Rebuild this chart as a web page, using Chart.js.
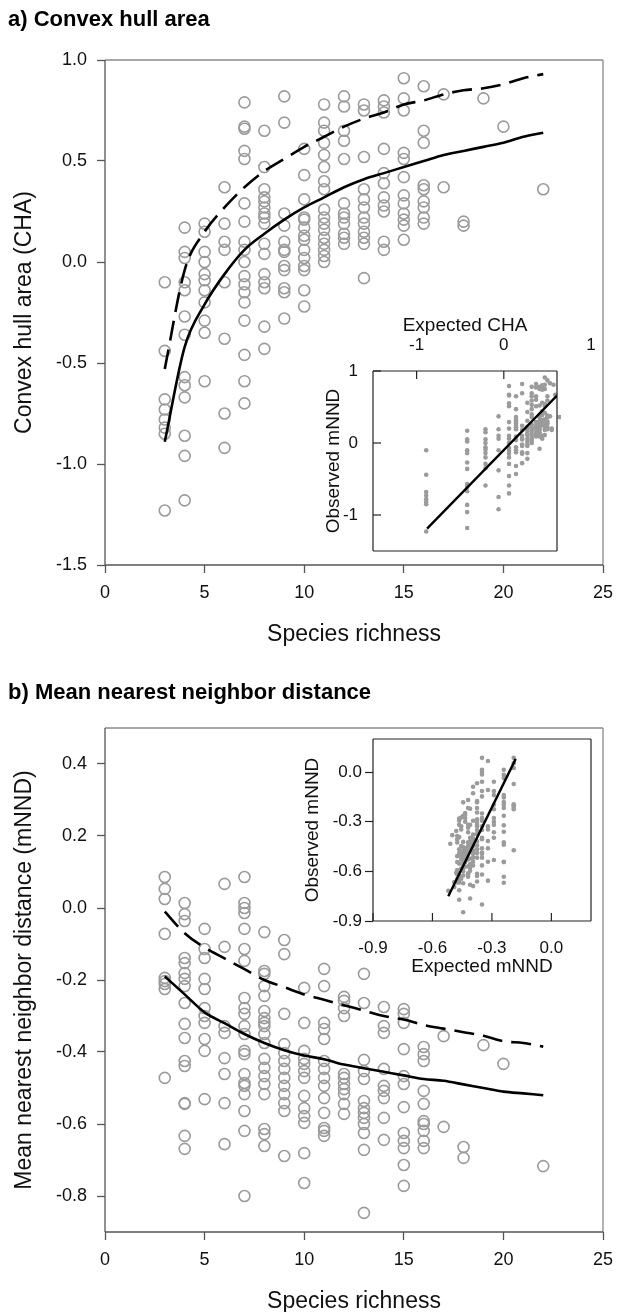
<!DOCTYPE html>
<html>
<head>
<meta charset="utf-8">
<script src="https://cdn.jsdelivr.net/npm/chart.js@4.4.1/dist/chart.umd.min.js"></script>
<style>
  html, body { margin: 0; padding: 0; background: #fff; overflow: hidden; }
  body { position: relative; width: 617px; height: 1312px; }
  canvas { position: absolute; }
</style>
</head>
<body>
<canvas id="mainA" width="617" height="650" style="left:0;top:0"></canvas>
<canvas id="insetA" width="317" height="260" style="left:300px;top:300px"></canvas>
<canvas id="mainB" width="617" height="672" style="left:0;top:650px"></canvas>
<canvas id="insetB" width="317" height="250" style="left:290px;top:730px"></canvas>
<script>
const FONT = "'Liberation Sans', Arial, sans-serif";

// fitted curves, one value per species richness 3..22
const richness = [3, 4, 5, 6, 7, 8, 9, 10, 11, 12, 13, 14, 15, 16, 17, 18, 19, 20, 21, 22];
const chaFit = [-0.89, -0.42, -0.21, -0.06, 0.06, 0.14, 0.21, 0.27, 0.32, 0.37, 0.41, 0.44, 0.47, 0.50, 0.53, 0.55, 0.57, 0.59, 0.62, 0.64];
const chaNull = [-0.53, -0.04, 0.15, 0.27, 0.37, 0.45, 0.51, 0.57, 0.62, 0.67, 0.71, 0.74, 0.78, 0.80, 0.83, 0.85, 0.86, 0.88, 0.91, 0.93];
const mnndFit = [-0.19, -0.24, -0.29, -0.32, -0.35, -0.375, -0.395, -0.41, -0.42, -0.435, -0.445, -0.455, -0.465, -0.475, -0.48, -0.49, -0.50, -0.51, -0.515, -0.52];
const mnndNull = [-0.01, -0.07, -0.11, -0.14, -0.17, -0.20, -0.22, -0.24, -0.255, -0.27, -0.285, -0.30, -0.31, -0.325, -0.335, -0.345, -0.355, -0.37, -0.375, -0.385];

// observed values, one list per richness level
const obsRichness = [3, 4, 5, 6, 7, 8, 9, 10, 11, 12, 13, 14, 15, 16, 17, 18, 19, 20, 22];
const chaObs = [
  [-0.10, -0.44, -0.68, -0.73, -0.78, -0.82, -0.85, -1.23],
  [0.17, 0.05, 0.02, -0.10, -0.14, -0.27, -0.36, -0.57, -0.61, -0.67, -0.86, -0.96, -1.18],
  [0.19, 0.15, 0.05, 0.0, -0.06, -0.09, -0.14, -0.20, -0.29, -0.35, -0.59],
  [0.37, 0.19, 0.10, 0.06, -0.10, -0.38, -0.75, -0.92],
  [0.79, 0.67, 0.66, 0.55, 0.51, 0.29, 0.20, 0.10, 0.06, 0.0, -0.07, -0.11, -0.15, -0.20, -0.29, -0.46, -0.59, -0.70],
  [0.65, 0.47, 0.36, 0.32, 0.30, 0.27, 0.24, 0.22, 0.19, 0.09, 0.04, -0.06, -0.10, -0.13, -0.32, -0.43],
  [0.82, 0.69, 0.24, 0.18, 0.10, 0.06, 0.05, -0.02, -0.04, -0.13, -0.15, -0.28],
  [0.56, 0.43, 0.31, 0.22, 0.21, 0.17, 0.13, 0.11, 0.06, 0.02, -0.02, -0.04, -0.14, -0.22],
  [0.78, 0.69, 0.65, 0.59, 0.53, 0.47, 0.40, 0.36, 0.26, 0.22, 0.19, 0.16, 0.12, 0.09, 0.06, 0.03, 0.0],
  [0.82, 0.77, 0.65, 0.60, 0.51, 0.29, 0.24, 0.22, 0.19, 0.14, 0.12, 0.09],
  [0.78, 0.75, 0.52, 0.36, 0.31, 0.27, 0.22, 0.19, 0.15, 0.12, 0.09, -0.08],
  [0.80, 0.77, 0.74, 0.56, 0.44, 0.39, 0.32, 0.28, 0.25, 0.10, 0.06],
  [0.91, 0.81, 0.75, 0.54, 0.51, 0.42, 0.33, 0.29, 0.24, 0.21, 0.18, 0.11],
  [0.87, 0.65, 0.59, 0.38, 0.36, 0.30, 0.27, 0.22, 0.19],
  [0.83, 0.37],
  [0.20, 0.18],
  [0.81],
  [0.67],
  [0.36]
];
const mnndObs = [
  [0.086, 0.053, 0.025, -0.072, -0.194, -0.203, -0.211, -0.225, -0.472],
  [0.014, -0.017, -0.036, -0.139, -0.153, -0.181, -0.197, -0.217, -0.264, -0.322, -0.361, -0.425, -0.439, -0.542, -0.544, -0.633, -0.669],
  [-0.058, -0.114, -0.139, -0.197, -0.225, -0.278, -0.300, -0.319, -0.364, -0.397, -0.531],
  [0.067, -0.108, -0.328, -0.347, -0.417, -0.461, -0.542, -0.656],
  [0.086, 0.014, 0.0, -0.014, -0.058, -0.114, -0.147, -0.250, -0.278, -0.294, -0.328, -0.350, -0.397, -0.406, -0.461, -0.486, -0.494, -0.517, -0.564, -0.619, -0.800],
  [-0.067, -0.175, -0.183, -0.217, -0.244, -0.286, -0.306, -0.319, -0.328, -0.350, -0.375, -0.419, -0.444, -0.467, -0.489, -0.517, -0.614, -0.628, -0.661],
  [-0.089, -0.128, -0.294, -0.378, -0.403, -0.425, -0.447, -0.472, -0.494, -0.517, -0.542, -0.564, -0.689],
  [-0.222, -0.319, -0.397, -0.419, -0.433, -0.453, -0.472, -0.522, -0.556, -0.578, -0.597, -0.681, -0.764],
  [-0.169, -0.217, -0.319, -0.336, -0.364, -0.425, -0.447, -0.472, -0.494, -0.528, -0.569, -0.611, -0.619, -0.633],
  [-0.247, -0.258, -0.278, -0.300, -0.461, -0.472, -0.489, -0.503, -0.517, -0.544, -0.572],
  [-0.183, -0.264, -0.422, -0.453, -0.475, -0.536, -0.556, -0.569, -0.583, -0.600, -0.625, -0.672, -0.847],
  [-0.275, -0.328, -0.347, -0.447, -0.494, -0.508, -0.528, -0.583, -0.644],
  [-0.281, -0.294, -0.319, -0.392, -0.467, -0.489, -0.553, -0.625, -0.647, -0.667, -0.714, -0.772],
  [-0.386, -0.406, -0.425, -0.508, -0.544, -0.592, -0.600, -0.619, -0.647, -0.667],
  [-0.356, -0.608],
  [-0.664, -0.694],
  [-0.381],
  [-0.433],
  [-0.717]
];

// tick labels
const xTicks = [0, 5, 10, 15, 20, 25];
const chaTicks = [-1.5, -1.0, -0.5, 0.0, 0.5, 1.0];
const mnndTicks = [-0.8, -0.6, -0.4, -0.2, 0.0, 0.2, 0.4];
const chaInsetTicks = [-1, 0, 1];
const mnndInsetTicks = [-0.9, -0.6, -0.3, 0.0];

// regression lines of the insets (observed vs expected)
const chaLineX = [-0.88, 0.61];
const chaLineY = [-1.19, 0.66];
const mnndLineX = [-0.52, -0.18];
const mnndLineY = [-0.75, 0.08];

function columnPoints(xs, cols) {
  const pts = [];
  cols.forEach((col, i) => col.forEach(v => pts.push({ x: xs[i], y: v })));
  return pts;
}

// observed value against the fitted (expected) value at its richness
function expectedPoints(fit, cols) {
  const pts = [];
  cols.forEach((col, i) => {
    const e = fit[richness.indexOf(obsRichness[i])];
    col.forEach(v => pts.push({ x: e, y: v }));
  });
  return pts;
}

function pairs(xs, ys) {
  return xs.map((x, i) => ({ x: x, y: ys[i] }));
}

function fmt(d) {
  return v => {
    if (Math.abs(v) < 1e-9) v = 0;
    return v.toFixed(d);
  };
}

function fixTicks(values) {
  return s => { s.ticks = values.map(v => ({ value: v })); };
}

function fixSize(prop, size) {
  return s => {
    s[prop] = size;
    s.paddingTop = 0; s.paddingBottom = 0; s.paddingLeft = 0; s.paddingRight = 0;
  };
}

// frame round the plot area + ticks that point inwards
const framePlugin = {
  id: 'frame',
  afterDraw(chart, args, opts) {
    const { ctx, chartArea: a } = chart;
    ctx.save();
    ctx.lineWidth = opts.width || 1;
    const side = (color, x1, y1, x2, y2) => {
      ctx.strokeStyle = color;
      ctx.beginPath(); ctx.moveTo(x1, y1); ctx.lineTo(x2, y2); ctx.stroke();
    };
    side(opts.top, a.left, a.top, a.right, a.top);
    side(opts.right, a.right, a.top, a.right, a.bottom);
    side(opts.bottom, a.left, a.bottom, a.right, a.bottom);
    side(opts.left, a.left, a.top, a.left, a.bottom);
    (opts.inward || []).forEach(id => {
      const s = chart.scales[id];
      s.ticks.forEach(t => {
        const p = s.getPixelForValue(t.value);
        if (s.isHorizontal()) {
          if (p < a.left - 1 || p > a.right + 1) return;
          const y0 = s.position === 'top' ? a.top : a.bottom;
          const dir = s.position === 'top' ? 1 : -1;
          side(opts.tickColor, p, y0, p, y0 + dir * 8);
        } else {
          if (p < a.top - 1 || p > a.bottom + 1) return;
          side(opts.tickColor, a.left, p, a.left + 8, p);
        }
      });
    });
    ctx.restore();
  }
};

function mainChart(id, c) {
  return new Chart(document.getElementById(id), {
    type: 'scatter',
    data: {
      datasets: [
        {
          type: 'line', data: pairs(richness, c.fit), borderColor: '#000', borderWidth: 2.6,
          pointRadius: 0, cubicInterpolationMode: 'monotone', fill: false
        },
        {
          type: 'line', data: pairs(richness, c.nul), borderColor: '#000', borderWidth: 2.6,
          borderDash: [20, 9], pointRadius: 0, cubicInterpolationMode: 'monotone', fill: false
        },
        {
          data: columnPoints(obsRichness, c.obs), pointRadius: 5.5, pointBorderWidth: 1.6,
          pointBorderColor: '#9b9b9b', pointBackgroundColor: 'rgba(0,0,0,0)',
          borderColor: '#9b9b9b', backgroundColor: 'rgba(0,0,0,0)'
        }
      ]
    },
    options: {
      responsive: false,
      animation: false,
      events: [],
      layout: { padding: { left: 8, right: 14, top: 0, bottom: 0 } },
      plugins: {
        legend: { display: false },
        tooltip: { enabled: false },
        title: {
          display: true, text: c.title, align: 'start', color: '#000',
          font: { family: FONT, size: 22, weight: 'bold' },
          padding: { top: c.titleTop, bottom: c.titleBottom }
        },
        frame: { left: '#555', bottom: '#555', top: '#8a8a8a', right: '#8a8a8a', width: 1.3 }
      },
      scales: {
        x: {
          type: 'linear', min: 0, max: 25,
          afterBuildTicks: fixTicks(xTicks),
          afterFit: fixSize('height', c.xHeight),
          ticks: { autoSkip: false, maxRotation: 0, padding: 9, color: '#111', font: { family: FONT, size: 18 }, callback: fmt(0) },
          grid: { drawOnChartArea: false, drawTicks: true, tickLength: 8, tickColor: '#555', tickWidth: 1.3 },
          border: { display: false },
          title: { display: true, text: 'Species richness', color: '#111', font: { family: FONT, size: 23 }, padding: { top: 0, bottom: c.xTitlePad } }
        },
        y: {
          type: 'linear', min: c.yMin, max: c.yMax,
          afterBuildTicks: fixTicks(c.yTicks),
          afterFit: fixSize('width', 97),
          ticks: { autoSkip: false, padding: 10, color: '#111', font: { family: FONT, size: 18 }, callback: fmt(1) },
          grid: { drawOnChartArea: false, drawTicks: true, tickLength: 8, tickColor: '#555', tickWidth: 1.3 },
          border: { display: false },
          title: { display: true, text: c.yTitle, color: '#111', font: { family: FONT, size: 23 }, padding: { top: 3, bottom: 0 } }
        }
      }
    },
    plugins: [framePlugin]
  });
}

mainChart('mainA', {
  title: 'a) Convex hull area', titleTop: 7, titleBottom: 26.6,
  fit: chaFit, nul: chaNull, obs: chaObs,
  yMin: -1.5, yMax: 1.0, yTicks: chaTicks, yTitle: 'Convex hull area (CHA)',
  xHeight: 85, xTitlePad: 2
});

mainChart('mainB', {
  title: 'b) Mean nearest neighbor distance', titleTop: 30, titleBottom: 21.6,
  fit: mnndFit, nul: mnndNull, obs: mnndObs,
  yMin: -0.9, yMax: 0.5, yTicks: mnndTicks, yTitle: 'Mean nearest neighbor distance (mNND)',
  xHeight: 90, xTitlePad: 7
});

// inset a: observed vs expected CHA
new Chart(document.getElementById('insetA'), {
  type: 'scatter',
  data: {
    datasets: [
      { type: 'line', data: pairs(chaLineX, chaLineY), borderColor: '#000', borderWidth: 2.4, pointRadius: 0 },
      {
        data: expectedPoints(chaFit, chaObs), pointRadius: 2.3, pointBorderWidth: 0,
        pointBackgroundColor: '#9b9b9b', backgroundColor: '#9b9b9b', clip: 4
      }
    ]
  },
  options: {
    responsive: false,
    animation: false,
    events: [],
    layout: { padding: { left: 0, right: 60, top: 0, bottom: 9 } },
    plugins: {
      legend: { display: false },
      tooltip: { enabled: false },
      frame: { left: '#222', bottom: '#222', top: '#222', right: '#222', width: 1.2, inward: ['x', 'y'], tickColor: '#222' }
    },
    scales: {
      x: {
        type: 'linear', position: 'top', min: -1.5, max: 0.61,
        afterBuildTicks: fixTicks(chaInsetTicks),
        afterFit: fixSize('height', 71),
        ticks: { autoSkip: false, maxRotation: 0, padding: 7, color: '#111', font: { family: FONT, size: 17 }, callback: fmt(0) },
        grid: { display: false },
        border: { display: false },
        title: { display: true, text: 'Expected CHA', color: '#111', font: { family: FONT, size: 19 }, padding: { top: 14.5, bottom: 0 } }
      },
      y: {
        type: 'linear', min: -1.5, max: 1,
        afterBuildTicks: fixTicks(chaInsetTicks),
        afterFit: fixSize('width', 73),
        ticks: { autoSkip: false, padding: 7, color: '#111', font: { family: FONT, size: 17 }, callback: fmt(0) },
        grid: { display: false },
        border: { display: false },
        title: { display: true, text: 'Observed mNND', color: '#111', font: { family: FONT, size: 19 }, padding: { top: 22.5, bottom: 0 } }
      }
    }
  },
  plugins: [framePlugin]
});

// inset b: observed vs expected mNND
new Chart(document.getElementById('insetB'), {
  type: 'scatter',
  data: {
    datasets: [
      { type: 'line', data: pairs(mnndLineX, mnndLineY), borderColor: '#000', borderWidth: 2.4, pointRadius: 0 },
      {
        data: expectedPoints(mnndFit, mnndObs), pointRadius: 2.3, pointBorderWidth: 0,
        pointBackgroundColor: '#9b9b9b', backgroundColor: '#9b9b9b'
      }
    ]
  },
  options: {
    responsive: false,
    animation: false,
    events: [],
    layout: { padding: { left: 0, right: 16, top: 9, bottom: 0 } },
    plugins: {
      legend: { display: false },
      tooltip: { enabled: false },
      frame: { left: '#222', bottom: '#222', top: '#222', right: '#222', width: 1.2, inward: ['x'], tickColor: '#222' }
    },
    scales: {
      x: {
        type: 'linear', min: -0.9, max: 0.2,
        afterBuildTicks: fixTicks(mnndInsetTicks),
        afterFit: fixSize('height', 59),
        ticks: { autoSkip: false, maxRotation: 0, padding: 9, color: '#111', font: { family: FONT, size: 17 }, callback: fmt(1) },
        grid: { display: false },
        border: { display: false },
        title: { display: true, text: 'Expected mNND', color: '#111', font: { family: FONT, size: 19 }, padding: { top: 0, bottom: 1.5 } }
      },
      y: {
        type: 'linear', min: -0.9, max: 0.2,
        afterBuildTicks: fixTicks(mnndInsetTicks),
        afterFit: fixSize('width', 83),
        ticks: { autoSkip: false, padding: 3, color: '#111', font: { family: FONT, size: 17 }, callback: fmt(1) },
        grid: { drawOnChartArea: false, drawTicks: true, tickLength: 8, tickColor: '#222', tickWidth: 1.2 },
        border: { display: false },
        title: { display: true, text: 'Observed mNND', color: '#111', font: { family: FONT, size: 19 }, padding: { top: 11.5, bottom: 0 } }
      }
    }
  },
  plugins: [framePlugin]
});
</script>
</body>
</html>
